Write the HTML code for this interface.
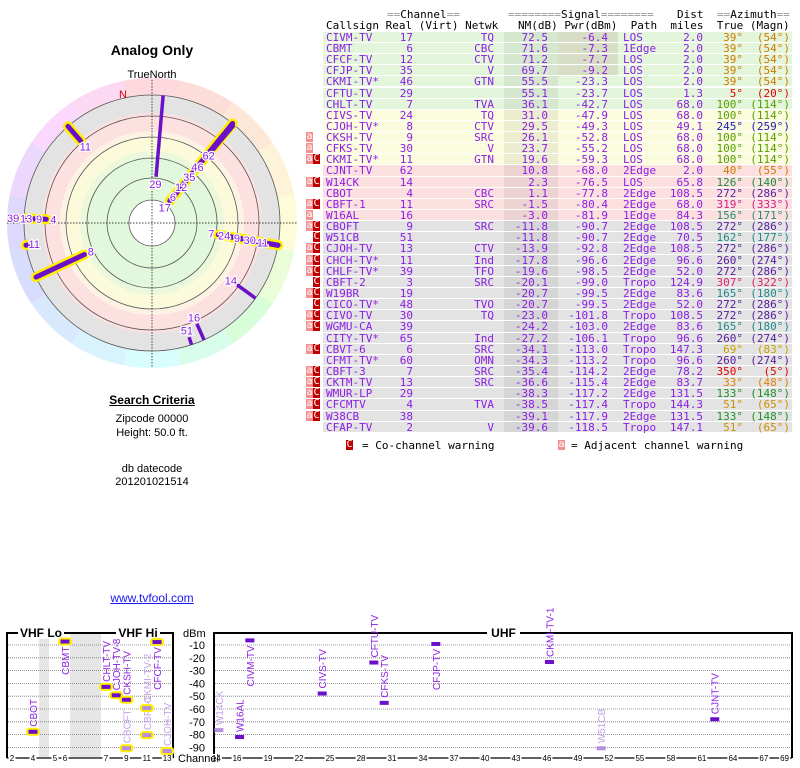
<!DOCTYPE html>
<html><head><meta charset="utf-8">
<style>
body{margin:0;width:800px;height:768px;background:#fff;position:relative;overflow:hidden;font-family:"Liberation Sans",sans-serif}
.t{position:absolute;white-space:pre;font-family:"DejaVu Sans Mono","Liberation Mono",monospace;font-size:11px;line-height:11px}
.row{position:absolute;left:323px;width:469px;height:10.1px}
.c{position:absolute;top:0;white-space:pre;font-family:"DejaVu Sans Mono",monospace;font-size:11px;line-height:11px;color:#8b1ee6}
.r{text-align:right}
.bd{position:absolute;width:7px;height:10px;font-family:"DejaVu Sans Mono",monospace;font-size:10px;line-height:10px;color:#fff;text-align:center}
.lt{position:absolute;font-size:11px;color:#000;text-align:center;white-space:pre}
svg{position:absolute;left:0;top:0}
</style></head><body>
<svg id="svg" width="800" height="768"></svg>

<div class="lt" style="left:52px;top:42px;width:200px;font-weight:bold;font-size:14px">Analog Only</div>
<div class="lt" style="left:52px;top:393px;width:200px;font-weight:bold;font-size:12px;text-decoration:underline">Search Criteria</div>
<div class="lt" style="left:52px;top:413px;width:200px">Zipcode 00000</div>
<div class="lt" style="left:52px;top:427px;width:200px">Height: 50.0 ft.</div>
<div class="lt" style="left:52px;top:463px;width:200px">db datecode</div>
<div class="lt" style="left:52px;top:476px;width:200px">201201021514</div>
<div class="lt" style="left:52px;top:591px;width:200px;font-size:12px;color:#1a1aee;text-decoration:underline">www.tvfool.com</div>

<div class="t" style="left:387px;top:9px"><span style="color:#999">==</span>Channel<span style="color:#999">==</span></div>
<div class="t" style="left:508px;top:9px"><span style="color:#999">========</span>Signal<span style="color:#999">========</span></div>
<div class="t" style="left:677px;top:9px">Dist</div>
<div class="t" style="left:717px;top:9px"><span style="color:#999">==</span>Azimuth<span style="color:#999">==</span></div>
<div class="t" style="left:326px;top:20px">Callsign Real (Virt) Netwk   NM(dB) Pwr(dBm)  Path  miles  True (Magn)</div>

<div id="tbl"></div>

<div class="bd" style="left:346px;top:440px;background:#c00000">C</div>
<div class="t" style="left:362px;top:440px;color:#000">= Co-channel warning</div>
<div class="bd" style="left:558px;top:440px;background:#f49090">a</div>
<div class="t" style="left:571px;top:440px;color:#000">= Adjacent channel warning</div>

<script>
const calls=["CIVM-TV","CBMT","CFCF-TV","CFJP-TV","CKMI-TV*","CFTU-TV","CHLT-TV","CIVS-TV","CJOH-TV*","CKSH-TV","CFKS-TV","CKMI-TV*","CJNT-TV","W14CK","CBOT","CBFT-1","W16AL","CBOFT","W51CB","CJOH-TV","CHCH-TV*","CHLF-TV*","CBFT-2","W19BR","CICO-TV*","CIVO-TV","WGMU-CA","CITY-TV*","CBVT-6","CFMT-TV*","CBFT-3","CKTM-TV","WMUR-LP","CFCMTV","W38CB","CFAP-TV"];
const reals=[17,6,12,35,46,29,7,24,8,9,30,11,62,14,4,11,16,9,51,13,11,39,3,19,48,30,39,65,6,60,7,13,29,4,38,2];
const netws=["TQ","CBC","CTV","V","GTN","","TVA","TQ","CTV","SRC","V","GTN","","","CBC","SRC","","SRC","","CTV","Ind","TFO","SRC","","TVO","TQ","","Ind","SRC","OMN","SRC","SRC","","TVA","","V"];
const nms=[72.5,71.6,71.2,69.7,55.5,55.1,36.1,31.0,29.5,26.1,23.7,19.6,10.8,2.3,1.1,-1.5,-3.0,-11.8,-11.8,-13.9,-17.8,-19.6,-20.1,-20.7,-20.7,-23.0,-24.2,-27.2,-34.1,-34.3,-35.4,-36.6,-38.3,-38.5,-39.1,-39.6];
const pwrs=[-6.4,-7.3,-7.7,-9.2,-23.3,-23.7,-42.7,-47.9,-49.3,-52.8,-55.2,-59.3,-68.0,-76.5,-77.8,-80.4,-81.9,-90.7,-90.7,-92.8,-96.6,-98.5,-99.0,-99.5,-99.5,-101.8,-103.0,-106.1,-113.0,-113.2,-114.2,-115.4,-117.2,-117.4,-117.9,-118.5];
const paths=["LOS","1Edge","LOS","LOS","LOS","LOS","LOS","LOS","LOS","LOS","LOS","LOS","2Edge","LOS","2Edge","2Edge","1Edge","2Edge","2Edge","2Edge","2Edge","2Edge","Tropo","2Edge","2Edge","Tropo","2Edge","Tropo","Tropo","Tropo","2Edge","2Edge","2Edge","Tropo","2Edge","Tropo"];
const dists=[2.0,2.0,2.0,2.0,2.0,1.3,68.0,68.0,49.1,68.0,68.0,68.0,2.0,65.8,108.5,68.0,84.3,108.5,70.5,108.5,96.6,52.0,124.9,83.6,52.0,108.5,83.6,96.6,147.3,96.6,78.2,83.7,131.5,144.3,131.5,147.1];
const trues=[39,39,39,39,39,5,100,100,245,100,100,100,40,126,272,319,156,272,162,272,260,272,307,165,272,272,165,260,69,260,350,33,133,51,133,51];
const magns=[54,54,54,54,54,20,114,114,259,114,114,114,55,140,286,333,171,286,177,286,274,286,322,180,286,286,180,274,83,274,5,48,148,65,148,65];
const flags=["","","","","","","","","","a","a","aC","","aC","","aC","a","aC","C","aC","aC","aC","C","aC","C","aC","aC","","aC","","aC","aC","aC","aC","aC",""];
const azColors={39:"#d07a00",5:"#e00000",100:"#56a000",245:"#2020b0",40:"#d07a00",126:"#208a40",272:"#5a20a0",319:"#d0208a",156:"#20907a",162:"#208a8a",260:"#5a20a0",307:"#e0206a",165:"#208a8a",69:"#c8a000",350:"#e00000",33:"#e08000",133:"#20902a",51:"#d09000"};

const tbl=document.getElementById('tbl');
const ROW0=31.8, RH=11.14;
function cell(row,txt,left,right,color){
  const d=document.createElement('div');
  d.className='c'+(right?' r':'');
  if(right){d.style.right=(792-right)+'px';}else{d.style.left=(left-323)+'px';}
  if(color)d.style.color=color;
  d.textContent=txt;
  row.appendChild(d);return d;
}
for(let i=0;i<calls.length;i++){
  const y=ROW0+i*RH;
  const row=document.createElement('div');
  
  
  row.className='row';row.style.top=y+'px';
  const nm=nms[i];
  row.style.background= nm>=35?'#e3f6dc': nm>=15?'#fbfbde': nm>=-5?'#fce0e0':'#e3e3e3';
  const sh=document.createElement('div');
  sh.style.cssText='position:absolute;left:181px;width:54px;top:0;height:100%;background:rgba(0,0,0,0.06)';
  row.appendChild(sh);
  if(i<4){const p=document.createElement('div');p.style.cssText='position:absolute;left:235px;width:60px;top:0;height:100%;background:rgba(140,40,40,0.12)';row.appendChild(p);}
  cell(row,calls[i],326);
  cell(row,String(reals[i]),0,413);
  cell(row,netws[i],0,494);
  cell(row,nm.toFixed(1),0,548);
  cell(row,pwrs[i].toFixed(1),0,608);
  cell(row,paths[i],623);
  cell(row,dists[i].toFixed(1),0,703);
  const col=azColors[trues[i]]||'#5a20a0';
  cell(row,trues[i]+'°',0,743,col);
  cell(row,'('+magns[i]+'°)',0,790,col);
  tbl.appendChild(row);
  const f=flags[i];
  if(f.includes('a')){const b=document.createElement('div');
    
    
    b.className='bd';b.style.cssText+='left:306px;top:'+y+'px;background:#f49090';b.textContent='a';tbl.appendChild(b);}
  if(f.includes('C')){const b=document.createElement('div');
    
    
    b.className='bd';b.style.cssText+='left:313px;top:'+y+'px;background:#c00000';b.textContent='C';tbl.appendChild(b);}
}

/* ---------- SVG ---------- */
const NS='http://www.w3.org/2000/svg';
const svg=document.getElementById('svg');
function mk(tag,attrs,parent){const e=document.createElementNS(NS,tag);for(const k in attrs)e.setAttribute(k,attrs[k]);(parent||svg).appendChild(e);return e;}

/* polar */
const CX=152,CY=223;
function px(r,az){return CX+r*Math.sin(az*Math.PI/180);}
function py(r,az){return CY-r*Math.cos(az*Math.PI/180);}
const hueStops=[350,20,45,75,120,160,190,215,235,255,275,300,330,350];
for(let s=0;s<16;s++){
  const a0=s*22.5-11.25,a1=a0+22.5, mid=s*22.5;
  const h=350+(mid<=90?mid*0.8:mid<=180?72+(mid-90)*1.3:mid<=270?189+(mid-180)*0.8:261+(mid-270)*1.0);
  const d=`M${px(145,a0)},${py(145,a0)} A145,145 0 0 1 ${px(145,a1)},${py(145,a1)} L${CX},${CY} Z`;
  const p=mk('path',{d:d,fill:`hsl(${h%360},90%,92%)`});
  
  
}
const bands=[[128,'#e3e3e3'],[110,'#fde0e0'],[92,'#fdf3e4'],[86,'#fbfbdc'],[72,'#ecf8dc'],[66,'#e2f8dc'],[23,'#ffffff']];
bands.forEach(b=>{const c=mk('circle',{cx:CX,cy:CY,r:b[0],fill:b[1]});
  
  });
[23,45,65,86,107,128].forEach(r=>{const c=mk('circle',{cx:CX,cy:CY,r:r,fill:'none',stroke:'#555','stroke-width':0.8});
  
  });
const v=mk('line',{x1:CX,y1:80,x2:CX,y2:368,stroke:'#000','stroke-width':0.7,'stroke-dasharray':'1.5,1.5'});


const hz=mk('line',{x1:7,y1:CY,x2:297,y2:CY,stroke:'#000','stroke-width':0.7,'stroke-dasharray':'1.5,1.5'});


const tn=mk('text',{x:CX,y:78,'font-size':11,'text-anchor':'middle','font-family':'Liberation Sans'});tn.textContent='TrueNorth';


const nl=mk('text',{x:123,y:98,'font-size':11,'text-anchor':'middle',fill:'#d00000','font-family':'Liberation Sans'});nl.textContent='N';



function rStart(nm){return Math.max(20,Math.min(128,107-nm*1.1));}
const shown=[];
for(let i=0;i<calls.length;i++){if(nms[i]>-20)shown.push(i);}
// yellow under-strokes
shown.forEach(i=>{if(reals[i]<=13){const r0=rStart(nms[i]);
  const l=mk('line',{x1:px(r0,trues[i]),y1:py(r0,trues[i]),x2:px(128,trues[i]),y2:py(128,trues[i]),stroke:'#ffee00','stroke-width':10,'stroke-linecap':'round'});
  
  }});
shown.forEach(i=>{const r0=rStart(nms[i]);
  const l=mk('line',{x1:px(r0,trues[i]),y1:py(r0,trues[i]),x2:px(128,trues[i]),y2:py(128,trues[i]),stroke:'#6a10c8','stroke-width':reals[i]<=13?5:3.5,'stroke-linecap':reals[i]<=13?'round':'butt'});
  
  });
// labels, stacked per bearing group
const groups={};
shown.forEach(i=>{const k=Math.round(trues[i]/4);(groups[k]=groups[k]||[]).push(i);});
Object.values(groups).forEach(g=>{
  g.sort((a,b)=>rStart(nms[a])-rStart(nms[b]));
  let prev=-99;
  g.forEach(i=>{let lr=Math.max(rStart(nms[i])-7,prev+13);prev=lr;
    const t=mk('text',{x:px(lr,trues[i]),y:py(lr,trues[i])+4,'font-size':11,'text-anchor':'middle',fill:'#8b1ee6',stroke:'#fff','stroke-width':2.5,'paint-order':'stroke','font-family':'Liberation Sans'});
    t.textContent=reals[i];
    
    });
});

/* ---------- spectrum chart ---------- */
const specCalls=["CBOT","CBMT","CHLT-TV","CJOH-TV-8","CKSH-TV","CBOFT","CBFT-1","CKMI-TV-2","CFCF-TV","CJOH-TV","W14CK","W16AL","CIVM-TV","CIVS-TV","CFTU-TV","CFKS-TV","CFJP-TV","CKMI-TV-1","W51CB","CJNT-TV"];
const specChans=[4,6,7,8,9,9,11,11,12,13,14,16,17,24,29,30,35,46,51,62];
const specPwrs=[-77.8,-7.3,-42.7,-49.3,-52.8,-90.7,-80.4,-59.3,-7.7,-92.8,-76.5,-81.9,-6.4,-47.9,-23.7,-55.2,-9.2,-23.3,-90.7,-68.0];
const specFaint=[0,0,0,0,0,1,1,1,0,1,1,0,0,0,0,0,0,0,1,0];
const dbTicks=[-10,-20,-30,-40,-50,-60,-70,-80,-90];
const vhfTicks=[2,4,5,6,7,9,11,13];
const uhfTicks=[14,16,19,22,25,28,31,34,37,40,43,46,49,52,55,58,61,64,67,69];

function yDb(d){return 645+(-10-d)*1.28;}
function vhfX(ch){return ch<=4?12+(ch-2)*10.5: ch<=6?55+(ch-5)*10: 106+(ch-7)*10.2;}
function uhfX(ch){return 425.5+(ch-34)*10.33;}
function chX(ch){return ch<=13?vhfX(ch):uhfX(ch);}

[[39,49],[70,101]].forEach(s=>{const r=mk('rect',{x:s[0],y:634,width:s[1]-s[0],height:123,fill:'#e6e6e6'});
  
  });
dbTicks.forEach(d=>{
  [[8,172],[215,791]].forEach(b=>{const l=mk('line',{x1:b[0],y1:yDb(d),x2:b[1],y2:yDb(d),stroke:'#777','stroke-width':0.8,'stroke-dasharray':'1,1'});
    
    });
  const t=mk('text',{x:205,y:yDb(d)+4,'font-size':11,'text-anchor':'end','font-family':'Liberation Sans'});t.textContent=d;
  
  
});
const dbm=mk('text',{x:183,y:637,'font-size':11,'font-family':'Liberation Sans'});dbm.textContent='dBm';


// frames
function frame(x0,x1,name){const p=mk('path',{d:`M${x0},758 L${x0},633 L${x1},633 L${x1},758`,fill:'none',stroke:'#000','stroke-width':2});
  
  
  const b=mk('line',{x1:x0,y1:758,x2:x1,y2:758,stroke:'#000','stroke-width':1.2});
  
  }
frame(7,173,'vhf-frame');frame(214,792,'uhf-frame');
[['VHF Lo',18,64],['VHF Hi',116,160],['UHF',487,520]].forEach(a=>{
  const r=mk('rect',{x:a[1],y:627,width:a[2]-a[1],height:12,fill:'#fff'});
  
  
  const t=mk('text',{x:(a[1]+a[2])/2,y:637,'font-size':12,'font-weight':'bold','text-anchor':'middle','font-family':'Liberation Sans'});t.textContent=a[0];
  
  });
function tickLabel(ch,x){const w=ch>9?9:5;
  const r=mk('rect',{x:x-w/2-1,y:754,width:w+2,height:8,fill:'#fff'});
  
  
  const t=mk('text',{x:x,y:761,'font-size':8,'text-anchor':'middle','font-family':'Liberation Sans'});t.textContent=ch;
  
  }
vhfTicks.forEach(c=>tickLabel(c,vhfX(c)));
uhfTicks.forEach(c=>tickLabel(c,uhfX(c)-2.5));
const cr=mk('rect',{x:176,y:752,width:37,height:12,fill:'#fff'});


const ct=mk('text',{x:178,y:762,'font-size':11,'font-family':'Liberation Sans'});ct.textContent='Channel';



for(let i=0;i<specCalls.length;i++){
  const x=chX(specChans[i]), y=yDb(specPwrs[i]);
  if(specChans[i]<=13){const h=mk('rect',{x:x-7,y:y-4,width:14,height:8,rx:3.5,fill:'#ffee00'});
    
    }
  const m=mk('rect',{x:x-4.5,y:y-2,width:9,height:4,fill:specFaint[i]?'#b48ee0':'#6a10c8'});
  
  
  const below=specPwrs[i]>-12;
  const ly=below?y+5:y-5;
  const t=mk('text',{x:x+4,y:ly,'font-size':10,'text-anchor':below?'end':'start',transform:`rotate(-90 ${x+4} ${ly})`,fill:specFaint[i]?'#c0a0e8':'#8b1ee6','font-family':'Liberation Sans'});
  t.textContent=specCalls[i];
  
  
}
</script>
</body></html>
